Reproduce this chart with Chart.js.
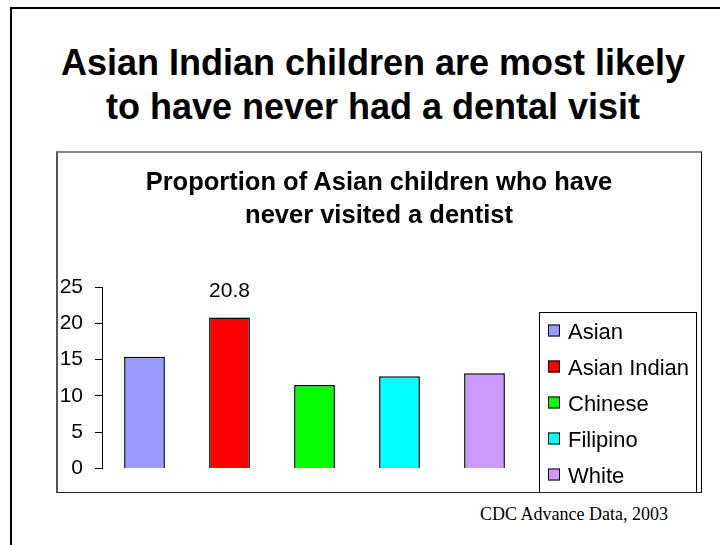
<!DOCTYPE html>
<html>
<head>
<meta charset="utf-8">
<script src="https://cdn.jsdelivr.net/npm/chart.js@4.4.1/dist/chart.umd.min.js"></script>
<style>
  body { margin: 0; width: 720px; height: 545px; background: #fff; position: relative; overflow: hidden;
         font-family: "Liberation Sans", Arial, sans-serif; color: #000; }
  #frame { position: absolute; left: 10px; top: 7px; width: 720px; height: 545px;
           border-left: 2px solid #000; border-top: 2px solid #000; }
  #title { position: absolute; left: 0; top: 41px; width: 746px; text-align: center;
           font-weight: bold; font-size: 36px; line-height: 44px; white-space: nowrap; }
  #subtitle { position: absolute; left: 0; top: 165px; width: 758px; text-align: center;
              font-weight: bold; font-size: 25.5px; line-height: 33px; white-space: nowrap; }
  #wrap { position: absolute; left: 56px; top: 151px; width: 646px; height: 342px; }
  #box { position: absolute; left: 56px; top: 151px; width: 646px; height: 342px; box-sizing: border-box;
         border-top: 2px solid #888; border-left: 2px solid #555; border-right: 1px solid #000; border-bottom: 1px solid #222;
         pointer-events: none; }
  #source { position: absolute; left: 480px; top: 505px; font-family: "Liberation Serif", "Times New Roman", serif;
            font-size: 18px; line-height: 18px; white-space: nowrap; }
</style>
</head>
<body>
<div id="frame"></div>
<div id="title">Asian Indian children are most likely<br>to have never had a dental visit</div>
<div id="wrap"><canvas id="chart" width="646" height="342"></canvas></div>
<div id="box"></div>
<div id="subtitle">Proportion of Asian children who have<br>never visited a dentist</div>
<div id="source">CDC Advance Data, 2003</div>
<script>
const categories = ['Asian', 'Asian Indian', 'Chinese', 'Filipino', 'White'];
const values = [15.4, 20.8, 11.5, 12.7, 13.1];
const barColors = ['#9999FF', '#FF0000', '#00FF00', '#00FFFF', '#CC99FF'];
const yTicks = [0, 5, 10, 15, 20, 25];
const labelledBars = [1];

const FONT = 'Liberation Sans';

// value label over the highlighted bar
const valueLabels = {
  id: 'valueLabels',
  afterDatasetsDraw(chart) {
    const ctx = chart.ctx;
    const meta = chart.getDatasetMeta(0);
    ctx.save();
    ctx.font = '21px "' + FONT + '"';
    ctx.fillStyle = '#000';
    ctx.textAlign = 'center';
    ctx.textBaseline = 'middle';
    labelledBars.forEach(i => {
      const bar = meta.data[i];
      ctx.fillText(String(values[i]), bar.x, bar.y - 26);
    });
    ctx.restore();
  }
};

// boxed legend on the right
const boxLegend = {
  id: 'boxLegend',
  afterDraw(chart) {
    const ctx = chart.ctx;
    ctx.save();
    ctx.strokeStyle = '#000';
    ctx.lineWidth = 1;
    ctx.strokeRect(483.5, 161.5, 157, 181);
    ctx.font = '22px "' + FONT + '"';
    ctx.textAlign = 'left';
    ctx.textBaseline = 'alphabetic';
    categories.forEach((name, i) => {
      const base = 187.5 + i * 36;
      ctx.fillStyle = barColors[i];
      ctx.fillRect(492, base - 14, 12, 12);
      ctx.strokeStyle = '#000';
      ctx.strokeRect(492.5, base - 13.5, 11, 11);
      ctx.fillStyle = '#000';
      ctx.fillText(name, 512, base);
    });
    ctx.restore();
  }
};

new Chart(document.getElementById('chart'), {
  type: 'bar',
  data: {
    labels: categories,
    datasets: [{
      data: values,
      backgroundColor: barColors,
      borderColor: '#000',
      borderWidth: 1.5,
      barPercentage: 0.48,
      categoryPercentage: 1
    }]
  },
  options: {
    responsive: false,
    animation: false,
    layout: { padding: { left: 0, top: 136, right: 175, bottom: 19 } },
    plugins: {
      legend: { display: false },
      tooltip: { enabled: false },
      title: { display: false }
    },
    scales: {
      x: { display: false },
      y: {
        min: 0,
        max: 25,
        afterBuildTicks: s => { s.ticks = yTicks.map(v => ({ value: v })); },
        afterFit: s => { s.width = 46; },
        grid: { drawOnChartArea: false, color: '#000', tickLength: 7, tickWidth: 1 },
        border: { color: '#000', width: 1 },
        ticks: { color: '#000', padding: 12, font: { family: FONT, size: 21 } }
      }
    }
  },
  plugins: [valueLabels, boxLegend]
});
</script>
</body>
</html>
